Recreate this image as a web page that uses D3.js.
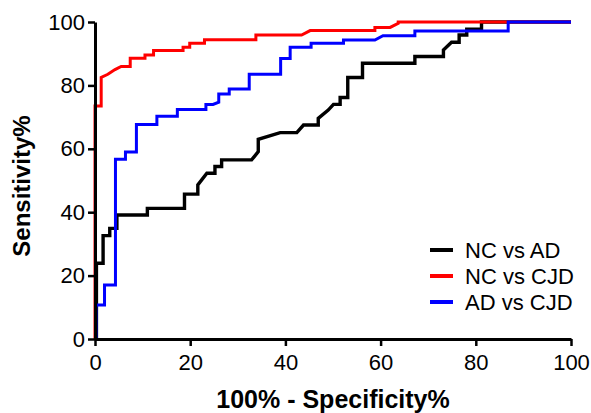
<!DOCTYPE html>
<html>
<head>
<meta charset="utf-8">
<script src="https://cdn.jsdelivr.net/npm/d3@7"></script>
<style>
  body { margin: 0; background: #fff; }
  svg { display: block; font-family: Arial, "Liberation Sans", sans-serif; }
</style>
</head>
<body>
<svg width="591" height="413"></svg>
<script>
// ROC curves, [100% - specificity, sensitivity] vertices
var ncVsAd = [[0,0],[0.3,0],[0.3,23.9],[1.7,23.9],[1.7,32.6],[3.1,32.6],[3.1,34.9],[4.6,34.9],[4.6,39.1],
  [11,39.1],[11,41.2],[18.8,41.2],[18.8,45.7],[21.6,45.7],[21.6,48.6],[23.5,52.3],[25.2,52.3],[25.2,54.4],
  [26.6,54.4],[26.6,56.5],[32.9,56.5],[34.3,59.1],[34.3,63],[38.9,65.1],[42.4,65.1],[43.8,67.5],[46.9,67.5],
  [46.9,69.6],[49,72.2],[50.1,74],[51.5,74],[51.5,76.2],[53.1,76.2],[53.1,82.5],[56.2,82.5],[56.2,87],
  [67.2,87],[67.2,89.1],[73.2,89.1],[73.2,91.2],[74.9,93.6],[76.5,93.6],[76.5,95.9],[78.1,95.9],[78.1,97.7],
  [81.2,97.7],[81.2,100],[100,100]];
var ncVsCjd = [[0,0],[0,73.5],[1.3,73.5],[1.3,82.5],[2.7,83.5],[4.2,85],[5.5,86],[7.4,86],[7.4,88.6],
  [10.5,88.6],[10.5,89.6],[12.3,89.6],[12.3,91],[18.5,91],[18.5,92],[19.9,92],[19.9,93.3],[23,93.3],[23,94.4],
  [33.8,94.4],[33.8,95.9],[43.4,95.9],[45.2,97.3],[58.8,97.3],[58.8,98.3],[62,98.3],[63.7,99.6],[63.7,100],[100,100]];
var adVsCjd = [[0,0],[0.2,0],[0.2,10.7],[2,10.7],[2,17],[4.3,17],[4.3,56.7],[6.4,56.7],[6.4,59],[8.7,59],
  [8.7,67.7],[13,67.7],[13,70.3],[17.3,70.3],[17.3,72.4],[23.3,72.4],[23.3,74],[24.8,74],[26,74.7],[26,77.3],
  [28.2,77.3],[28.2,78.9],[32.4,78.9],[32.4,83.5],[39,83.5],[39,88.5],[41,88.5],[41,92],[45.4,92],[45.4,93.3],
  [52.2,93.3],[52.2,94.3],[58.8,94.3],[60.5,95.7],[67.2,95.7],[67.2,97.2],[86.8,97.2],[86.8,100],[100,100]];

var seriesNames = ["NC vs AD", "NC vs CJD", "AD vs CJD"];
var seriesColors = ["#000000", "#ff0000", "#0000ff"];
var seriesData = [ncVsAd, ncVsCjd, adVsCjd];
var tickValues = [0, 20, 40, 60, 80, 100];

var svg = d3.select("svg");

var x = d3.scaleLinear().domain([0, 100]).range([95, 571]);
var y = d3.scaleLinear().domain([0, 100]).range([339, 22]);

var line = d3.line()
    .x(function(d) { return x(d[0]); })
    .y(function(d) { return y(d[1]); });

// curves
seriesData.forEach(function(data, i) {
    svg.append("path")
        .datum(data)
        .attr("fill", "none")
        .attr("stroke", seriesColors[i])
        .attr("stroke-width", i === 0 ? 3.4 : 3)
        .attr("stroke-linejoin", "miter")
        .attr("d", line);
});

// axes
var xAxis = svg.append("g")
    .attr("transform", "translate(0," + y(0) + ")")
    .call(d3.axisBottom(x).tickValues(tickValues).tickSize(7).tickPadding(8).tickSizeOuter(0));
var yAxis = svg.append("g")
    .attr("transform", "translate(" + x(0) + ",0)")
    .call(d3.axisLeft(y).tickValues(tickValues).tickSize(7).tickPadding(3).tickSizeOuter(0));

[xAxis, yAxis].forEach(function(a) {
    a.select(".domain").attr("stroke", "#000").attr("stroke-width", 3);
    a.selectAll(".tick line").attr("stroke", "#000").attr("stroke-width", 2.5);
    a.selectAll(".tick text")
        .attr("fill", "#000")
        .style("font-family", "Arial, 'Liberation Sans', sans-serif")
        .style("font-size", "22px");
});

// axis titles
svg.append("text")
    .attr("x", 333)
    .attr("y", 408)
    .attr("text-anchor", "middle")
    .style("font-size", "25px")
    .style("font-weight", "bold")
    .text("100% - Specificity%");

svg.append("text")
    .attr("transform", "translate(30,186) rotate(-90)")
    .attr("text-anchor", "middle")
    .style("font-size", "24px")
    .style("font-weight", "bold")
    .text("Sensitivity%");

// legend
var legend = svg.append("g").attr("transform", "translate(430,250)");
seriesNames.forEach(function(name, i) {
    var row = legend.append("g").attr("transform", "translate(0," + (i * 26) + ")");
    row.append("line")
        .attr("x1", 0).attr("x2", 23)
        .attr("stroke", seriesColors[i])
        .attr("stroke-width", 4);
    row.append("text")
        .attr("x", 35)
        .attr("dy", "0.35em")
        .style("font-size", "22px")
        .text(name);
});
</script>
</body>
</html>
